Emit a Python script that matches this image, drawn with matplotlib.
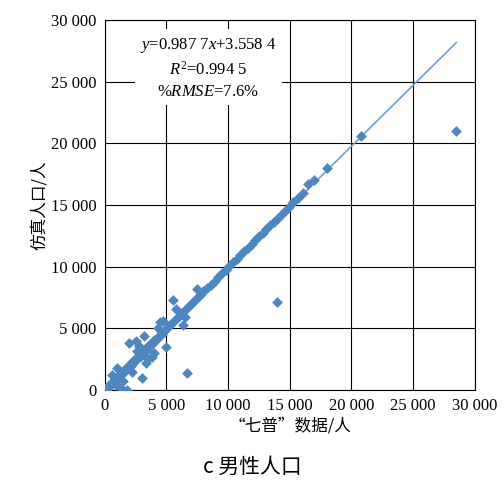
import matplotlib.pyplot as plt
plt.rcParams['font.family'] = ['Noto Sans CJK SC', 'DejaVu Sans']
plt.rcParams['mathtext.fontset'] = 'custom'
plt.rcParams['mathtext.rm'] = 'Liberation Serif'
plt.rcParams['mathtext.it'] = 'Liberation Serif:italic'

obs = [0,50,100,150,200,300,400,500,600,700,800,900,1000,1100,1200,1300,1400,1500,1600,1700,1800,1900,2000,2100,2200,2300,2400,2500,2600,2700,2800,2900,3000,3100,3200,3300,3400,3500,3600,3700,3800,3900,4000,4200,4400,4600,4800,5000,5200,5400,5600,5800,6000,6200,6400,6600,6800,7000,7200,7400,7600,7800,8000,8300,8600,8900,9200,9500,9800,10100,10400,10700,11000,11300,11600,11900,12200,12500,12800,13100,13400,13700,14000,14300,14600,14900,15300,15700,16100,16500,17000,18000,20800,28500,
       14000,6700,2000,5500,5000,1800,3000,1500,2500,3500,4000,4500,1000,600,2800,3200,3800,4300,5800,6300,7500,1300,2200,2600,3300,900,4700,6500]
sim = [0,80,120,100,250,280,450,480,650,620,850,870,1050,1000,1250,1200,1450,1400,1650,1600,1850,1800,2050,1950,2250,2200,2450,2400,2650,2600,2850,2800,3050,3000,3250,3200,3450,3400,3650,3600,3850,3800,4050,4150,4400,4550,4800,4950,5200,5350,5600,5750,6000,6150,6400,6550,6800,6950,7200,7350,7600,7750,8000,8250,8550,8850,9150,9450,9750,10050,10350,10650,10950,11250,11550,11850,12150,12450,12750,13050,13350,13650,13900,14200,14500,14800,15200,15600,16000,16700,17000,18000,20600,21000,
       7100,1400,3800,7300,3500,0,1000,700,4000,2500,3000,5500,1800,1200,3600,4400,2700,5000,6600,5300,8200,200,1500,3200,2200,400,5600,5900]

fig = plt.figure(figsize=(5.04, 4.95), dpi=100)
ax = fig.add_axes([0.208, 0.212, 0.734, 0.748])
c = '#4f86c0'
ax.plot([0, 28500], [3.5584, 0.9877*28500+3.5584], color='#6a9fcf', lw=1.2, zorder=2)
ax.scatter(obs, sim, marker='D', s=30, color=c, zorder=3, linewidths=0)
ax.set_xlim(0, 30000); ax.set_ylim(0, 30000)
ticks = [0,5000,10000,15000,20000,25000,30000]
labs = ['0','5 000','10 000','15 000','20 000','25 000','30 000']
ax.set_xticks(ticks); ax.set_xticklabels(labs, family='Liberation Serif')
ax.set_yticks(ticks); ax.set_yticklabels(labs, family='Liberation Serif')
ax.grid(True, color='black', lw=0.8)
ax.tick_params(labelsize=12, length=0, pad=6)
for s in ax.spines.values():
    s.set_color('black'); s.set_linewidth(0.8)
ax.set_xlabel('“七普”数据/人', fontsize=12, labelpad=2)
ax.set_ylabel('仿真人口/人', fontsize=12, labelpad=2)
ax.text(0.28, 0.87, '$y$=0.987 7$x$+3.558 4\n$R^2$=0.994 5\n%$RMSE$=7.6%',
        transform=ax.transAxes, ha='center', va='center', fontsize=12,
        family='Liberation Serif', linespacing=1.4,
        bbox=dict(facecolor='white', edgecolor='none', pad=4), zorder=4)
fig.text(0.5, 0.045, 'c 男性人口', ha='center', fontsize=15)
fig.savefig('out.png')
